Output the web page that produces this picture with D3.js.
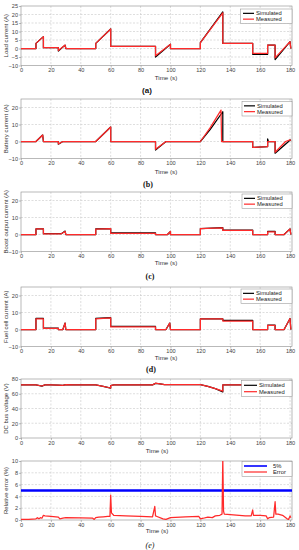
<!DOCTYPE html>
<html><head><meta charset="utf-8">
<script src="https://cdn.jsdelivr.net/npm/d3@7"></script>
<style>html,body{margin:0;padding:0;background:#fff;}svg{display:block;}</style>
</head><body>
<script>
// ---------- DATA ----------
const xTicks = [0,20,40,60,80,100,120,140,160,180];

// (a) Load current
const loadT    = [0,10,10,15,15,25,25,29.5,30,50,50,60,60,90,90,100,100,120,120,135,135,155,155,165,165,170,170,180,180.5];
const loadSim  = [0,0,3,7,0.5,0.5,-1.5,2,0,0,3,11.5,1.2,1.2,-5,2.5,0,0,3.5,21.5,3,3,-3.4,-3.4,2,2,-6.5,4,0];
const loadMeas = [0,0,3,7,0.5,0.5,-1.2,2,0,0,3,11.5,1.2,1.2,-4.3,2.5,0,0,3.5,21,3,3,-2.8,-2.8,2,2,-5.5,4,0];

// (b) Battery current
const battSimT  = [0,10,14.5,15,25,25,28,50,60,60,90,90,97,120,126.5,135,135,155,155,165,165,165.5,170,170,179,180,180.5];
const battSim   = [0,0,3.8,0,0,-1.6,0,0,8.5,0,0,-5,0,0,7,17.5,0,0,-3.5,-3,1.5,0,0,-6.9,0,1,0.5];
const battMeasT = [0,10,14.5,15,25,25,28,50,60,60,90,90,97,120,126.5,133.8,134.2,155,155,165,165,170,170,177,180,180.5];
const battMeas  = [0,0,3.8,0,0,-1.4,0,0,8.5,0,0,-4.6,0,0,8,18.5,0,0,-3.5,-3,0,0,-6.3,0,1,0.5];

// (c) Boost output current
const boostT    = [0,10,10,15,15,27,29.5,30,50,50,60,60,90,90,98,100,100,120,120,135,135,155,155,165,165,170,170,176,180,180.5];
const boostSim  = [0,0,3.3,3.3,0.5,0.5,2,0,0,3.3,3.5,1,1,0,0,1.8,0,0,3.5,4,2.6,2.6,0,0,1.8,1.8,0,0,3.3,0];
const boostMeas = [0,0,3.3,3.3,0.4,0.4,1.8,0,0,3.2,3.4,0.6,0.6,0,0,1.8,0,0,3.4,3.9,2.4,2.4,0,0,1.6,1.6,0,0,3.3,0];

// (d) Fuel cell current
const fcT    = [0,10,10,15,15,25,25,28,29.5,30,50,50,60,60,90,90,97,99.5,100,120,120,135,135,155,155,165,165,170,170,176,180,180.5];
const fcSim  = [0,0,6.5,6.5,0.8,0.8,0,0,3.8,0,0,6.5,7,1.8,1.8,0,0,3.8,0,0,6.3,6.3,5.4,5.4,0,0,2.6,2.6,0,0,6.5,0];
const fcMeas = [0,0,6.3,6.3,0.6,0.6,0,0,3.8,0,0,6.3,6.8,1.5,1.5,0,0,3.8,0,0,6.2,6.2,5,5,0,0,2.4,2.4,0,0,6.5,0];

// (e) DC bus voltage
const vT    = [0,10,14,16,20,25,28,30,35,50,55,60,60,62,88,90,93,96,100,120,125,130,135,135,137,150,160,170,180];
const vSim  = [72,72,70.3,72,72,71.8,71.5,72.3,72,72,70,67.5,71,72,72,74,73.5,72.5,72.5,72.5,70,67,62.5,72,72,72,72,72,72];
const vMeas = [72,72,70.5,72,72,71.8,71.5,72.3,72,72,70,67.8,71,72,72,74.3,73.5,72.5,72.5,72.5,70,67,63.5,72,72,72,72,72,72];

// (e) Relative error
const errT = [0,5,10,11,12,13,14,15,16,20,25,26,28,30,40,48,49,50,52,55,58,59.5,60,60.5,62,70,80,88,89.5,90,91,95,97,100,110,119,120,122,125,128,130,133,134.5,135,135.5,136,140,150,154,155,155.5,157,160,164,165,166,169,170,170.5,172,175,178,179,180,180.5];
const errV = [0.1,0.1,0.2,0.4,0.2,0.4,0.3,0.8,0.7,0.6,0.5,0.2,0.3,0.4,0.35,0.3,0.1,0.4,0.5,0.55,0.6,0.6,4.2,1.2,0.8,0.7,0.6,0.55,2.3,0.7,0.6,0.2,0.1,0.4,0.55,0.6,0.2,0.3,0.5,0.4,0.7,0.8,1.0,10.5,1.5,1.0,0.9,0.7,0.7,1.7,0.8,0.8,0.8,0.7,0.2,0.4,0.5,3.1,1.0,1.0,0.8,0.2,0.1,0.7,0.4];
const errLimit = 5;

// ---------- DRAW ----------
const W = 299, H = 550;
const svg = d3.select("body").append("svg").attr("width", W).attr("height", H);
const FONT = "Liberation Sans, Arial, sans-serif";
const RED = "#ff2a2a";
const x = d3.scaleLinear().domain([0, 181.3]).range([21, 292]);

const panels = [
  {top:6, bottom:65.5, dom:[-10,25], ticks:d3.range(-10,26,5), label:"Load current (A)",
   series:[{t:loadT,v:loadSim,c:"#000"},{t:loadT,v:loadMeas,c:RED}],
   legend:{x:240.5,y:9,w:51.5,h:14.5,items:[["Simulated","#000"],["Measured",RED]],lx1:243,lx2:254,tx:256},
   tickY:72, timeY:80, timeX:166, cap:"(a)", capY:93, capX:147, capStyle:"sans"},
  {top:99, bottom:158.5, dom:[-10,25], ticks:[-10,0,10,20], label:"Battery current (A)",
   series:[{t:battSimT,v:battSim,c:"#000"},{t:battMeasT,v:battMeas,c:RED}],
   legend:{x:242,y:101.5,w:50,h:14.5,items:[["Simulated","#000"],["Measured",RED]],lx1:244,lx2:255,tx:257},
   tickY:165, timeY:174, timeX:166, cap:"(b)", capY:187, capX:148, capStyle:"serifb"},
  {top:192, bottom:251.5, dom:[-10,25], ticks:[-10,0,10,20], label:"Boost output current (A)",
   series:[{t:boostT,v:boostSim,c:"#000"},{t:boostT,v:boostMeas,c:RED}],
   legend:{x:242,y:194,w:50,h:14.5,items:[["Simulated","#000"],["Measured",RED]],lx1:244,lx2:255,tx:257},
   tickY:258, timeY:265, timeX:166, cap:"(c)", capY:279, capX:150, capStyle:"serifb"},
  {top:287, bottom:346.5, dom:[-10,25], ticks:[-10,0,10,20], label:"Fuel cell  current (A)",
   series:[{t:fcT,v:fcSim,c:"#000"},{t:fcT,v:fcMeas,c:RED}],
   legend:{x:241,y:289,w:51,h:14.5,items:[["Simulated","#000"],["Measured",RED]],lx1:243,lx2:254,tx:256},
   tickY:353, timeY:360, timeX:166, cap:"(d)", capY:372, capX:151, capStyle:"serifb"},
  {top:379, bottom:438, dom:[0,80], ticks:d3.range(0,81,20), label:"DC bus voltage (V)",
   series:[{t:vT,v:vSim,c:"#000"},{t:vT,v:vMeas,c:RED}],
   legend:{x:241.5,y:380.5,w:50.5,h:16,items:[["Simulated","#000"],["Measured",RED]],lx1:244,lx2:257,tx:259},
   tickY:445, timeY:453, timeX:157},
  {top:461, bottom:520, dom:[0,10], ticks:d3.range(0,11,2), label:"Relative error (%)",
   series:[{t:errT,v:errV,c:RED}], limit:true,
   legend:{x:242,y:461.5,w:50,h:15,items:[["5%","#0000ff"],["Error",RED]],lx1:244,lx2:267,tx:273},
   tickY:527, timeY:533, timeX:157, cap:"(e)", capY:548, capX:150, capStyle:"serifi"}
];

panels.forEach((p, i) => {
  const y = d3.scaleLinear().domain(p.dom).range([p.bottom, p.top]);
  const g = svg.append("g");
  const clipId = "clip" + i;
  svg.append("clipPath").attr("id", clipId).append("rect")
    .attr("x", x.range()[0]).attr("y", p.top).attr("width", x.range()[1]-x.range()[0]).attr("height", p.bottom-p.top);

  // grid
  const grid = g.append("g").attr("stroke", "#c8c8c8").attr("stroke-width", 0.6).attr("stroke-dasharray", "2,1.5");
  xTicks.forEach(t => { if (t > 0 && t < 181) grid.append("line").attr("x1", x(t)).attr("x2", x(t)).attr("y1", p.top).attr("y2", p.bottom); });
  p.ticks.forEach(t => { if (t > p.dom[0] && t < p.dom[1]) grid.append("line").attr("x1", x.range()[0]).attr("x2", x.range()[1]).attr("y1", y(t)).attr("y2", y(t)); });

  // axes via d3
  const xa = g.append("g").attr("transform", `translate(0,${p.bottom})`)
    .call(d3.axisBottom(x).tickValues(xTicks).tickSize(2).tickPadding(1).tickFormat(d3.format("d")));
  const ya = g.append("g").attr("transform", `translate(${x.range()[0]},0)`)
    .call(d3.axisLeft(y).tickValues(p.ticks).tickSize(2).tickPadding(1).tickFormat(d3.format("d")));
  [xa, ya].forEach(a => {
    a.select(".domain").remove();
    a.selectAll("line").attr("stroke", "#777").attr("stroke-width", 0.5);
    a.selectAll("text").attr("font-family", FONT).attr("font-size", 5.6).attr("fill", "#444");
  });
  xa.selectAll("text").attr("dy", null).attr("y", null).attr("transform", null)
    .attr("y", p.tickY - p.bottom);
  // frame
  g.append("rect").attr("x", x.range()[0]).attr("y", p.top).attr("width", x.range()[1]-x.range()[0])
    .attr("height", p.bottom-p.top).attr("fill", "none").attr("stroke", "#8a8a8a").attr("stroke-width", 0.6);

  // lines
  const plot = g.append("g").attr("clip-path", `url(#${clipId})`);
  if (p.limit) {
    plot.append("line").attr("x1", x.range()[0]).attr("x2", x.range()[1])
      .attr("y1", y(errLimit)).attr("y2", y(errLimit)).attr("stroke", "#0000ff").attr("stroke-width", 2.6);
  }
  p.series.forEach(s => {
    const pts = s.t.map((t, k) => [t, s.v[k]]);
    plot.append("path").datum(pts)
      .attr("d", d3.line().x(d => x(d[0])).y(d => y(d[1])))
      .attr("fill", "none").attr("stroke", s.c).attr("stroke-width", 1.25).attr("stroke-linejoin", "round");
  });

  // legend
  const L = p.legend;
  const lg = g.append("g");
  lg.append("rect").attr("x", L.x).attr("y", L.y).attr("width", L.w).attr("height", L.h)
    .attr("fill", "#fff").attr("stroke", "#8a8a8a").attr("stroke-width", 0.5);
  L.items.forEach((it, k) => {
    const yy = L.y + L.h * (k === 0 ? 0.3 : 0.7);
    lg.append("line").attr("x1", L.lx1).attr("x2", L.lx2).attr("y1", yy).attr("y2", yy)
      .attr("stroke", it[1]).attr("stroke-width", it[0] === "5%" ? 1.6 : 1.2);
    lg.append("text").attr("x", L.tx).attr("y", yy + 2).text(it[0])
      .attr("font-family", FONT).attr("font-size", 5.8).attr("fill", "#222");
  });

  // y label
  g.append("text").attr("transform", `translate(7.5,${(p.top+p.bottom)/2}) rotate(-90)`)
    .attr("text-anchor", "middle").attr("font-family", FONT).attr("font-size", 6).attr("fill", "#333")
    .text(p.label);
  // x label
  g.append("text").attr("x", p.timeX).attr("y", p.timeY).attr("text-anchor", "middle")
    .attr("font-family", FONT).attr("font-size", 6.2).attr("fill", "#333").text("Time (s)");
  // caption
  if (p.cap) {
    const c = g.append("text").attr("x", p.capX).attr("y", p.capY).attr("text-anchor", "middle")
      .attr("font-size", 8).attr("fill", "#111").text(p.cap);
    if (p.capStyle === "sans") c.attr("font-family", FONT).attr("font-weight", "bold");
    else if (p.capStyle === "serifb") c.attr("font-family", "Liberation Serif, Times New Roman, serif").attr("font-weight", "bold");
    else c.attr("font-family", "Liberation Serif, Times New Roman, serif").attr("font-style", "italic");
  }
});
</script>
</body></html>
